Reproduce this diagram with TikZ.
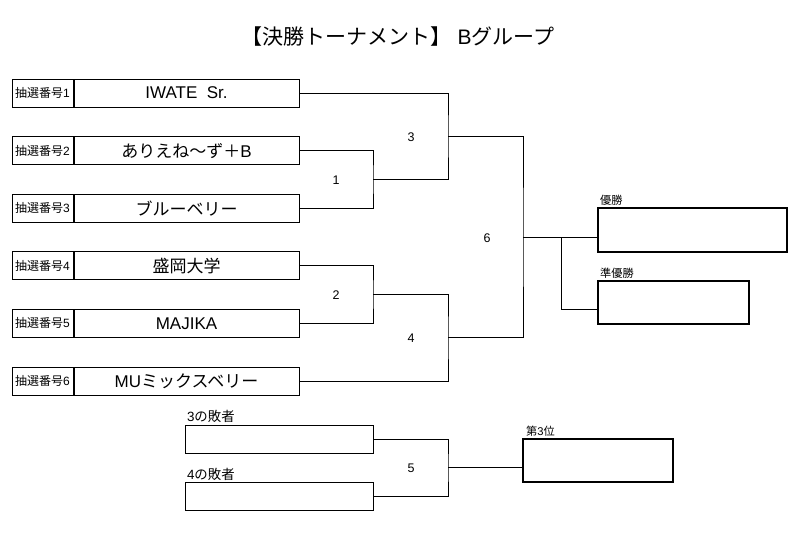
\documentclass[tikz,border=0pt]{standalone}
\usepackage{fontspec}
\setmainfont{Liberation Sans}
\newfontfamily\jp{Noto Sans CJK JP}
\usetikzlibrary{positioning}

\tikzset{
  lot/.style={draw, line width=1pt, minimum width=61, minimum height=28, inner sep=0pt, font=\fontsize{12}{12}\selectfont},
  team/.style={draw, line width=1pt, minimum width=225, minimum height=28, inner sep=0pt, font=\fontsize{17}{17}\selectfont},
  loser/.style={draw, line width=1pt, minimum width=188, minimum height=28, inner sep=0pt},
  prize/.style={draw, line width=2.6pt, inner sep=0pt},
  matchno/.style={font=\fontsize{12.5}{13}\selectfont},
  tag/.style={anchor=south west, inner sep=1pt, font=\fontsize{11.2}{12}\selectfont},
}

\begin{document}
\begin{tikzpicture}[x=1pt, y=-1pt, line width=1pt]
    \useasboundingbox (0,0) rectangle (800,533);

    % titolo
    \node[font=\fontsize{21}{22}\selectfont] (title) at (398,37) {{\jp 【決勝トーナメント】} B{\jp グループ}};

    % squadre
    \foreach \name [count=\i] in {IWATE~~Sr., {\jp ありえね～ず＋}B, {\jp ブルーベリー}, {\jp 盛岡大学}, MAJIKA, MU{\jp ミックスベリー}} {
        \node[lot] (lot\i) at (42.5, {93+57.6*(\i-1)}) {{\jp 抽選番号}\i};
        \node[team, right=0pt of lot\i] (team\i) {\name};
    }

    % punti di incontro
    \coordinate (m1) at (373,179.4);
    \coordinate (m2) at (373,294.6);
    \coordinate (m3) at (448,136.2);
    \coordinate (m4) at (448,337.8);
    \coordinate (m6) at (523,237.5);
    \coordinate (br) at (561,237.5);

    % tabellone
    \draw (team2.east) -| (m1) |- (team3.east);
    \draw (team4.east) -| (m2) |- (team5.east);
    \draw (team1.east) -| (m3) |- (m1);
    \draw (m2) -| (m4) |- (team6.east);
    \draw (m3) -| (m6) |- (m4);

    % numeri delle partite
    \node[matchno] (n1) at (336,180) {1};
    \node[matchno] (n2) at (336,295) {2};
    \node[matchno] (n3) at (411,137) {3};
    \node[matchno] (n4) at (411,338) {4};
    \node[matchno] (n6) at (487,238) {6};

    % vincitore e secondo
    \node[prize, minimum width=189, minimum height=44] (champ) at (692.5,230) {};
    \node[prize, minimum width=151, minimum height=43] (second) at (673.5,302.5) {};
    \node[tag] (champlbl) at ([xshift=2pt]champ.north west) {\jp 優勝};
    \node[tag] (secondlbl) at ([xshift=2pt]second.north west) {\jp 準優勝};
    \draw (m6) -- (champ.west |- m6);
    \draw (br) |- ([yshift=-6.5pt]second.west);

    % terzo posto
    \node[loser] (lose3) at (279,439) {};
    \node[loser] (lose4) at (279,496.5) {};
    \node[tag, font=\fontsize{13.4}{14}\selectfont] (lose3lbl) at ([xshift=1pt]lose3.north west) {3{\jp の敗者}};
    \node[tag, font=\fontsize{13.4}{14}\selectfont] (lose4lbl) at ([xshift=1pt]lose4.north west) {4{\jp の敗者}};
    \coordinate (m5) at (448,467.75);
    \draw (lose3.east) -| (m5) |- (lose4.east);
    \node[matchno] (n5) at (411,468) {5};
    \node[prize, minimum width=150, minimum height=43] (third) at (598,460.5) {};
    \node[tag] (thirdlbl) at ([xshift=3pt]third.north west) {{\jp 第}3{\jp 位}};
    \draw (m5) -- (third.west |- m5);
\end{tikzpicture}
\end{document}
